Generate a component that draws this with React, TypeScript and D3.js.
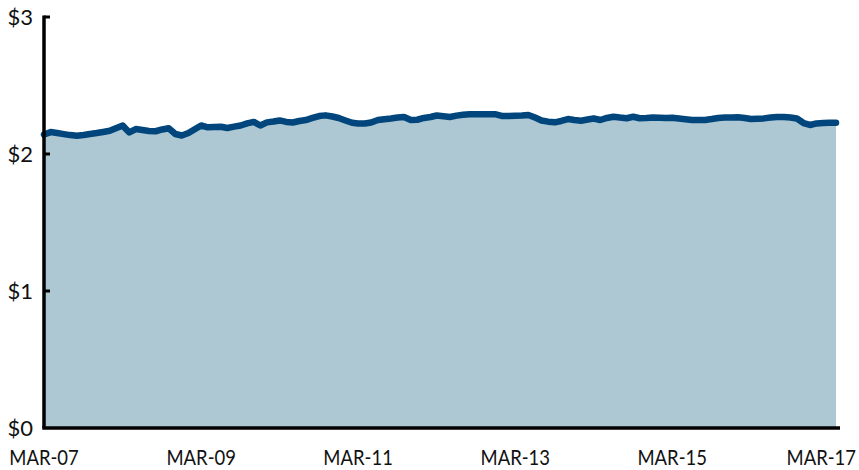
import { useEffect, useRef } from "react"
import * as d3 from "d3"

// monthly price, starting Mar 2007
const startMonth = new Date(2007, 2, 1)
const prices = [
  2.142, 2.16, 2.153, 2.145, 2.138, 2.133, 2.139, 2.146, 2.153, 2.161,
  2.17, 2.19, 2.207, 2.157, 2.182, 2.175, 2.168, 2.166, 2.179, 2.188,
  2.146, 2.135, 2.153, 2.182, 2.208, 2.195, 2.197, 2.199, 2.19, 2.2,
  2.208, 2.223, 2.234, 2.208, 2.231, 2.237, 2.245, 2.234, 2.23, 2.241,
  2.248, 2.263, 2.277, 2.282, 2.274, 2.263, 2.245, 2.228, 2.223, 2.223,
  2.23, 2.248, 2.254, 2.259, 2.266, 2.27, 2.248, 2.25, 2.263, 2.27,
  2.281, 2.275, 2.27, 2.28, 2.286, 2.29, 2.29, 2.29, 2.29, 2.29,
  2.277, 2.277, 2.279, 2.281, 2.285, 2.266, 2.245, 2.236, 2.231, 2.241,
  2.255, 2.248, 2.243, 2.252, 2.259, 2.248, 2.263, 2.272, 2.266, 2.261,
  2.272, 2.261, 2.263, 2.266, 2.264, 2.263, 2.265, 2.259, 2.254, 2.248,
  2.248, 2.248, 2.255, 2.263, 2.266, 2.266, 2.268, 2.263, 2.255, 2.258,
  2.26, 2.266, 2.27, 2.27, 2.266, 2.259, 2.226, 2.212, 2.223, 2.226,
  2.228, 2.228,
]
const yTicks = [0, 1, 2, 3]
const xTickYears = [2007, 2009, 2011, 2013, 2015, 2017]

const W = 859
const H = 470
const FONT = "Lato, 'Open Sans', sans-serif"

const App = () => {
  const ref = useRef<SVGSVGElement>(null)

  useEffect(() => {
    document.body.style.margin = "0"
    const svg = d3.select(ref.current)
    svg.selectAll("*").remove()

    const data = prices.map((v, i) => ({
      date: d3.timeMonth.offset(startMonth, i),
      value: v,
    }))

    const x = d3
      .scaleTime()
      .domain([startMonth, data[data.length - 1].date])
      .range([44, 836])
    const y = d3.scaleLinear().domain([0, 3]).range([428, 17])

    const area = d3
      .area<{ date: Date; value: number }>()
      .x((d) => x(d.date))
      .y0(y(0))
      .y1((d) => y(d.value))
    const line = d3
      .line<{ date: Date; value: number }>()
      .x((d) => x(d.date))
      .y((d) => y(d.value))

    svg.append("path").datum(data).attr("d", area).attr("fill", "#adc8d3")
    svg
      .append("path")
      .datum(data)
      .attr("d", line)
      .attr("fill", "none")
      .attr("stroke", "#00467c")
      .attr("stroke-width", 6.5)
      .attr("stroke-linejoin", "round")
      .attr("stroke-linecap", "round")

    // y axis
    svg
      .append("line")
      .attr("x1", 44)
      .attr("x2", 44)
      .attr("y1", y(3) - 1.5)
      .attr("y2", y(0))
      .attr("stroke", "#000")
      .attr("stroke-width", 3.5)
    svg
      .selectAll(".ytick")
      .data(yTicks.filter((t) => t > 0))
      .join("line")
      .attr("x1", 44)
      .attr("x2", 50)
      .attr("y1", (d) => y(d))
      .attr("y2", (d) => y(d))
      .attr("stroke", "#000")
      .attr("stroke-width", 3)
    svg
      .selectAll(".ylab")
      .data(yTicks)
      .join("text")
      .attr("x", 33)
      .attr("y", (d) => y(d))
      .attr("dy", "0.35em")
      .attr("text-anchor", "end")
      .attr("font-family", FONT)
      .attr("font-size", 22)
      .attr("fill", "#111")
      .text((d) => `$${d}`)

    // x axis
    svg
      .append("line")
      .attr("x1", 42.25)
      .attr("x2", 840)
      .attr("y1", y(0))
      .attr("y2", y(0))
      .attr("stroke", "#000")
      .attr("stroke-width", 3.5)
    // labels squeezed horizontally, the original face is narrower than Lato
    const last = xTickYears[xTickYears.length - 1]
    svg
      .selectAll(".xlab")
      .data(xTickYears)
      .join("text")
      .attr("transform", (d) => {
        const px = d === last ? W - 3 : x(new Date(d, 2, 1))
        return `translate(${px},465) scale(0.84,1)`
      })
      .attr("text-anchor", (d) => (d === last ? "end" : "middle"))
      .attr("font-family", FONT)
      .attr("font-size", 22)
      .attr("fill", "#111")
      .text((d) => `MAR-${String(d % 100).padStart(2, "0")}`)
  }, [])

  return <svg ref={ref} width={W} height={H} style={{ display: "block", background: "#fff" }} />
}

export default App
